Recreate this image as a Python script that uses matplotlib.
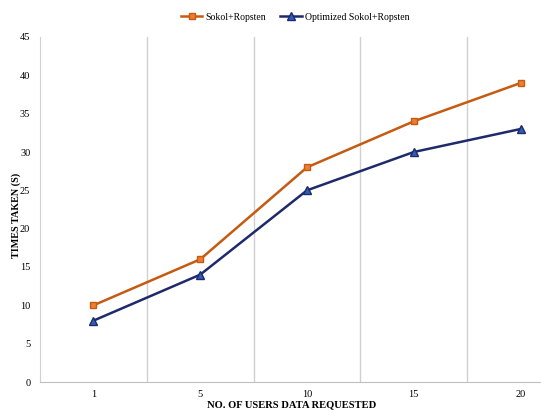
import numpy as np
import matplotlib.pyplot as plt

users = ["1", "5", "10", "15", "20"]
sokol_ropsten = [10, 16, 28, 34, 39]
optimized_sokol_ropsten = [8, 14, 25, 30, 33]

plt.rcParams['font.family'] = ['Liberation Serif', 'DejaVu Serif']

fig = plt.figure(figsize=(5.41, 4.11), dpi=100)
# plot area runs past the right edge of the figure
ax = fig.add_axes([40 / 541, 1 - 382 / 411, 534 / 541, 345 / 411])

x = np.arange(len(users))
ax.plot(x, sokol_ropsten, color='#C55A11', lw=1.8, marker='s', ms=5,
        markerfacecolor='#ED7D31', markeredgecolor='#C55A11', label='Sokol+Ropsten')
ax.plot(x, optimized_sokol_ropsten, color='#1F2A6B', lw=1.8, marker='^', ms=6,
        markerfacecolor='#2E5FB5', markeredgecolor='#1F2A6B', label='Optimized Sokol+Ropsten')

ax.set_xlim(-0.5, len(users) - 0.5)
ax.set_ylim(0, 45)
ax.set_xticks(x)
ax.set_xticklabels(users, fontsize=7.5)
ax.set_yticks(np.arange(0, 46, 5))
ax.tick_params(axis='y', labelsize=7.5, length=0, pad=7)
ax.tick_params(axis='x', length=0, pad=6)

# vertical separators between categories
for b in np.arange(0.5, len(users) - 1, 1.0):
    ax.axvline(b, color='#D0D0D0', lw=1, zorder=0)

for side in ['top', 'right']:
    ax.spines[side].set_visible(False)
ax.spines['left'].set_color('#D0D0D0')
ax.spines['bottom'].set_color('#BFBFBF')

fig.text(16 / 541, 1 - 215 / 411, 'TIMES TAKEN (S)', rotation=90, fontsize=7.3,
         fontweight='bold', ha='center', va='center')
fig.text(292 / 541, 1 - 405 / 411, 'NO. OF USERS DATA REQUESTED', fontsize=7.6,
         fontweight='bold', ha='center', va='center')

fig.legend(loc='center', bbox_to_anchor=(295 / 541, 1 - 17 / 411), ncol=2, frameon=False,
           fontsize=7, handlelength=2.2, columnspacing=1.5, handletextpad=0.3)

fig.savefig('out.png', dpi=100)
